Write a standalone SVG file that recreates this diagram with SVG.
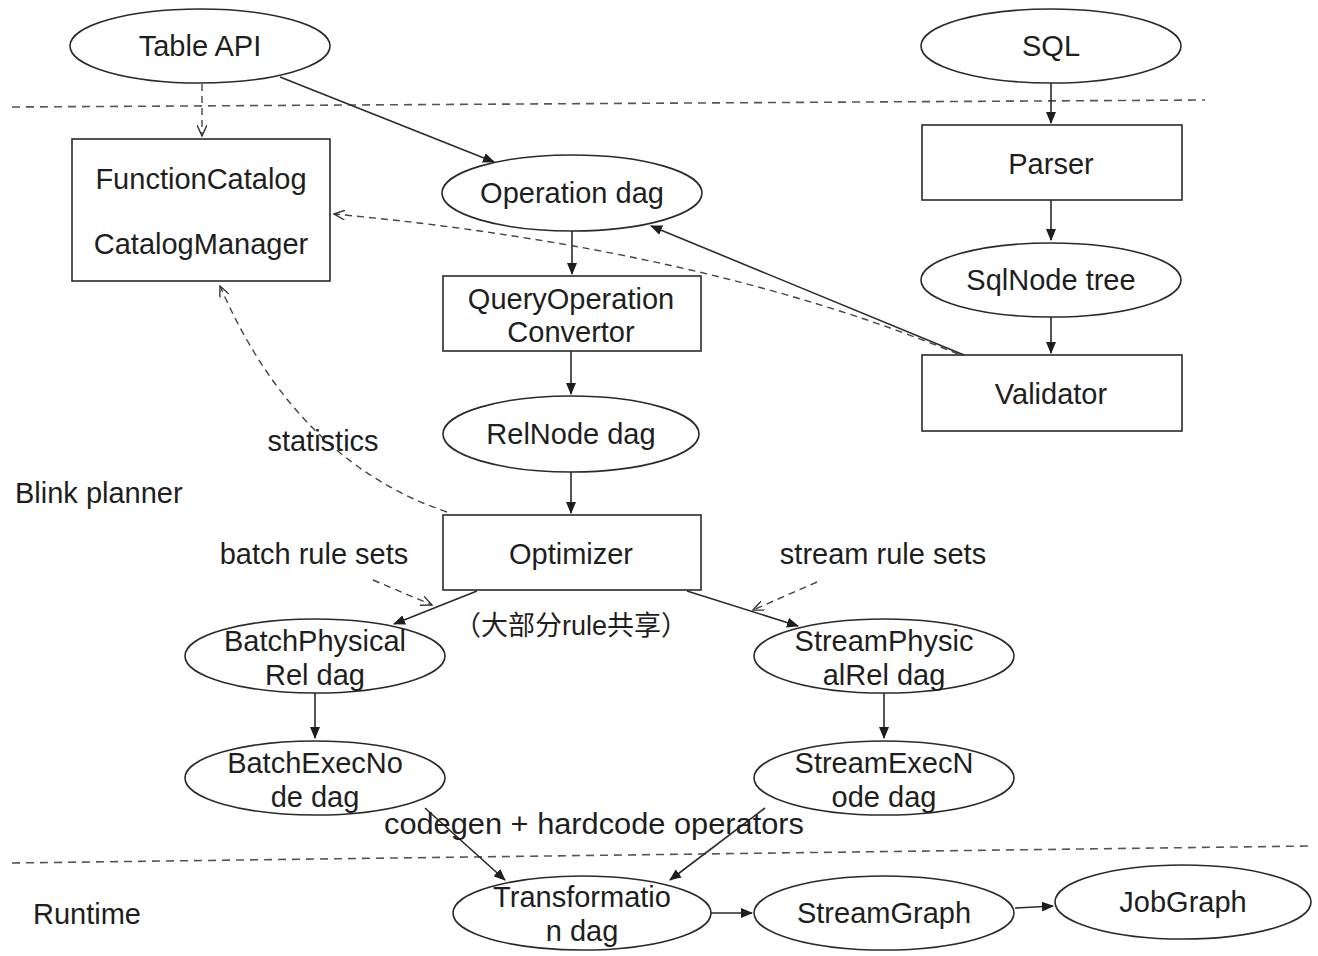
<svg xmlns="http://www.w3.org/2000/svg" width="1318" height="956" viewBox="0 0 1318 956">
<style>
.n{fill:#fff;stroke:#2a2a2a;stroke-width:1.6}
.t{font-family:"Liberation Sans",Arial,"Noto Sans CJK SC",sans-serif;font-size:29px;fill:#1e1e1e;text-anchor:middle}
.l{font-family:"Liberation Sans",Arial,"Noto Sans CJK SC",sans-serif;font-size:29px;fill:#1e1e1e}
.s{fill:none;stroke:#2a2a2a;stroke-width:1.6}
.d{fill:none;stroke:#444;stroke-width:1.4;stroke-dasharray:7,5}
.sep{fill:none;stroke:#555;stroke-width:1.6;stroke-dasharray:8,6}
</style>
<defs>
<marker id="a" viewBox="0 0 12 10" refX="11" refY="5" markerWidth="12" markerHeight="10" markerUnits="userSpaceOnUse" orient="auto"><path d="M0,0L12,5L0,10Z" fill="#1e1e1e"/></marker>
<marker id="o" viewBox="0 0 12 10" refX="11" refY="5" markerWidth="12" markerHeight="10" markerUnits="userSpaceOnUse" orient="auto"><path d="M0,0L11,5L0,10" fill="none" stroke="#333" stroke-width="1.4"/></marker>
</defs>
<rect width="1318" height="956" fill="#fff"/>
<g id="separators">
<line class="sep" x1="12" y1="107" x2="1205" y2="100"/>
<line class="sep" x1="12" y1="863" x2="1310" y2="846"/>
</g>
<g id="tableapi"><ellipse class="n" cx="200" cy="46" rx="130" ry="37"/><text class="t" x="200" y="56">Table API</text></g>
<g id="sql"><ellipse class="n" cx="1051" cy="46" rx="130" ry="37"/><text class="t" x="1051" y="56">SQL</text></g>
<g id="catalog"><rect class="n" x="72" y="139" width="258" height="142"/><text class="t" x="201" y="189">FunctionCatalog</text><text class="t" x="201" y="254">CatalogManager</text></g>
<g id="operationdag"><ellipse class="n" cx="572" cy="193" rx="130" ry="38"/><text class="t" x="572" y="203">Operation dag</text></g>
<g id="queryop"><rect class="n" x="443" y="276" width="258" height="75"/><text class="t" x="571" y="309">QueryOperation</text><text class="t" x="571" y="342">Convertor</text></g>
<g id="relnode"><ellipse class="n" cx="571" cy="434" rx="128" ry="38"/><text class="t" x="571" y="444">RelNode dag</text></g>
<g id="optimizer"><rect class="n" x="443" y="515" width="258" height="75"/><text class="t" x="571" y="564">Optimizer</text></g>
<g id="parser"><rect class="n" x="922" y="125" width="260" height="75"/><text class="t" x="1051" y="174">Parser</text></g>
<g id="sqlnode"><ellipse class="n" cx="1051" cy="280" rx="130" ry="37"/><text class="t" x="1051" y="290">SqlNode tree</text></g>
<g id="validator"><rect class="n" x="922" y="355" width="260" height="76"/><text class="t" x="1051" y="404">Validator</text></g>
<g id="batchphys"><ellipse class="n" cx="315" cy="656" rx="130" ry="37"/><text class="t" x="315" y="651">BatchPhysical</text><text class="t" x="315" y="685">Rel dag</text></g>
<g id="streamphys"><ellipse class="n" cx="884" cy="656" rx="130" ry="37"/><text class="t" x="884" y="651">StreamPhysic</text><text class="t" x="884" y="685">alRel dag</text></g>
<g id="batchexec"><ellipse class="n" cx="315" cy="778" rx="130" ry="37"/><text class="t" x="315" y="773">BatchExecNo</text><text class="t" x="315" y="807">de dag</text></g>
<g id="streamexec"><ellipse class="n" cx="884" cy="778" rx="130" ry="37"/><text class="t" x="884" y="773">StreamExecN</text><text class="t" x="884" y="807">ode dag</text></g>
<g id="transformation"><ellipse class="n" cx="582" cy="913" rx="129" ry="37"/><text class="t" x="582" y="907">Transformatio</text><text class="t" x="582" y="941">n dag</text></g>
<g id="streamgraph"><ellipse class="n" cx="884" cy="913" rx="130" ry="37"/><text class="t" x="884" y="923">StreamGraph</text></g>
<g id="jobgraph"><ellipse class="n" cx="1183" cy="902" rx="128" ry="37"/><text class="t" x="1183" y="912">JobGraph</text></g>
<g id="connectors">
<line class="d" x1="202" y1="84" x2="202" y2="136" marker-end="url(#o)"/>
<line class="s" x1="280" y1="77" x2="494" y2="162" marker-end="url(#a)"/>
<line class="s" x1="572" y1="231" x2="572" y2="274" marker-end="url(#a)"/>
<line class="s" x1="964" y1="355" x2="651" y2="226" marker-end="url(#a)"/>
<path class="d" d="M958,354 Q700,248 334,214" marker-end="url(#o)"/>
<line class="s" x1="571" y1="351" x2="571" y2="394" marker-end="url(#a)"/>
<line class="s" x1="571" y1="472" x2="571" y2="513" marker-end="url(#a)"/>
<path class="d" d="M447,512 Q296,461 220,286" marker-end="url(#o)"/>
<line class="s" x1="1051" y1="83" x2="1051" y2="123" marker-end="url(#a)"/>
<line class="s" x1="1051" y1="200" x2="1051" y2="240" marker-end="url(#a)"/>
<line class="s" x1="1051" y1="317" x2="1051" y2="353" marker-end="url(#a)"/>
<line class="s" x1="477" y1="591" x2="394" y2="624" marker-end="url(#a)"/>
<line class="d" x1="373" y1="580" x2="432" y2="605" marker-end="url(#o)"/>
<line class="s" x1="687" y1="591" x2="798" y2="626" marker-end="url(#a)"/>
<line class="d" x1="817" y1="582" x2="753" y2="610" marker-end="url(#o)"/>
<line class="s" x1="315" y1="693" x2="315" y2="738" marker-end="url(#a)"/>
<line class="s" x1="884" y1="693" x2="884" y2="738" stroke="#777" marker-end="url(#a)"/>
<line class="s" x1="425" y1="808" x2="505" y2="880" marker-end="url(#a)"/>
<line class="s" x1="765" y1="808" x2="670" y2="880" marker-end="url(#a)"/>
<line class="s" x1="711" y1="913" x2="752" y2="913" marker-end="url(#a)"/>
<line class="s" x1="1015" y1="908" x2="1053" y2="906" marker-end="url(#a)"/>
</g>
<g id="labels">
<text class="t" x="571" y="635" style="font-size:27px">（大部分rule共享）</text>
<text class="t" x="323" y="451">statistics</text>
<text class="l" x="15" y="503">Blink planner</text>
<text class="t" x="314" y="564">batch rule sets</text>
<text class="t" x="883" y="564">stream rule sets</text>
<text class="t" x="594" y="834" textLength="420" lengthAdjust="spacingAndGlyphs">codegen + hardcode operators</text>
<text class="l" x="33" y="924">Runtime</text>
</g>
</svg>
